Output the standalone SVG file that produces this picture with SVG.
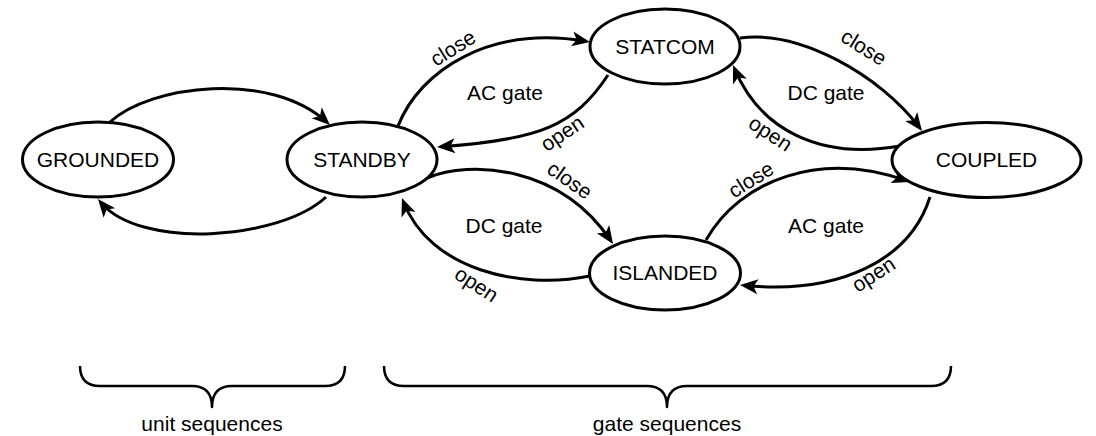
<svg xmlns="http://www.w3.org/2000/svg" width="1096" height="436" viewBox="0 0 1096 436">
<style>
.node ellipse{fill:#fff;stroke:#000;stroke-width:3}
.node text{font-family:"Liberation Sans",Arial,sans-serif;font-size:21px;fill:#000;text-anchor:middle}
.edge{fill:none;stroke:#000;stroke-width:3;marker-end:url(#arr)}
.lbl{font-family:"Liberation Sans",Arial,sans-serif;font-size:21px;fill:#000;text-anchor:middle;dominant-baseline:central}
.glbl{font-family:"Liberation Sans",Arial,sans-serif;font-size:21px;fill:#000;text-anchor:middle}
.brace{fill:none;stroke:#000;stroke-width:2.5;stroke-linejoin:round}
</style>
<defs>
<marker id="arr" markerUnits="userSpaceOnUse" markerWidth="18" markerHeight="15" refX="14" refY="7.5" orient="auto" overflow="visible">
<path d="M0,0 L18,7.5 L0,15 L4.5,7.5 z" fill="#000"/>
</marker>
</defs>
<g id="connectors">
<path class="edge" d="M110,122 C150,85 270,70 327,122.3"/>
<path class="edge" d="M326,197 C280,240 140,250 100.5,202.1"/>
<path class="edge" d="M398,126 C420,70 490,25 586,41.3"/>
<path class="edge" d="M608,75 C575,125 540,140 441,146.7"/>
<path class="edge" d="M740,38 C800,30 880,75 919.6,127.8"/>
<path class="edge" d="M900,146 C820,160 760,130 734.5,68.7"/>
<path class="edge" d="M427,178 C470,160 560,165 610.8,240.7"/>
<path class="edge" d="M590,276 C520,290 430,270 403.4,201.7"/>
<path class="edge" d="M706,240 C740,180 820,150 906.2,180.7"/>
<path class="edge" d="M930,197 C910,260 840,295 744,285.4"/>
</g>
<g id="edge-labels">
<text class="lbl" transform="translate(452.7,47.7) rotate(-32)">close</text>
<text class="lbl" transform="translate(562,133) rotate(-34)">open</text>
<text class="glbl" x="505" y="100">AC gate</text>
<text class="lbl" transform="translate(864,47) rotate(32)">close</text>
<text class="lbl" transform="translate(770.7,133.3) rotate(33)">open</text>
<text class="glbl" x="826" y="100">DC gate</text>
<text class="lbl" transform="translate(570,180) rotate(35)">close</text>
<text class="lbl" transform="translate(476.7,284) rotate(33)">open</text>
<text class="glbl" x="504" y="233">DC gate</text>
<text class="lbl" transform="translate(750.7,179.3) rotate(-32)">close</text>
<text class="lbl" transform="translate(873.3,274) rotate(-33)">open</text>
<text class="glbl" x="826" y="233">AC gate</text>
</g>
<g id="GROUNDED" class="node">
<ellipse cx="98" cy="159.5" rx="75.5" ry="37.5"/>
<text x="98" y="167">GROUNDED</text>
</g>
<g id="STANDBY" class="node">
<ellipse cx="362" cy="159.5" rx="75" ry="37.5"/>
<text x="362" y="167">STANDBY</text>
</g>
<g id="STATCOM" class="node">
<ellipse cx="665" cy="46.5" rx="75" ry="37.5"/>
<text x="665" y="54">STATCOM</text>
</g>
<g id="COUPLED" class="node">
<ellipse cx="986.5" cy="160" rx="94.5" ry="37.5"/>
<text x="986.5" y="167">COUPLED</text>
</g>
<g id="ISLANDED" class="node">
<ellipse cx="665" cy="273" rx="75.5" ry="37"/>
<text x="665" y="280">ISLANDED</text>
</g>
<g id="unit-sequences">
<path class="brace" d="M80,366 Q80,386 100,386 L192,386 Q212,386 212,407 Q212,386 232,386 L325,386 Q345,386 345,366"/>
<text class="glbl" x="212" y="431">unit sequences</text>
</g>
<g id="gate-sequences">
<path class="brace" d="M384,366 Q384,386 404,386 L647,386 Q667,386 667,407 Q667,386 687,386 L931,386 Q951,386 951,366"/>
<text class="glbl" x="667" y="431">gate sequences</text>
</g>
</svg>
